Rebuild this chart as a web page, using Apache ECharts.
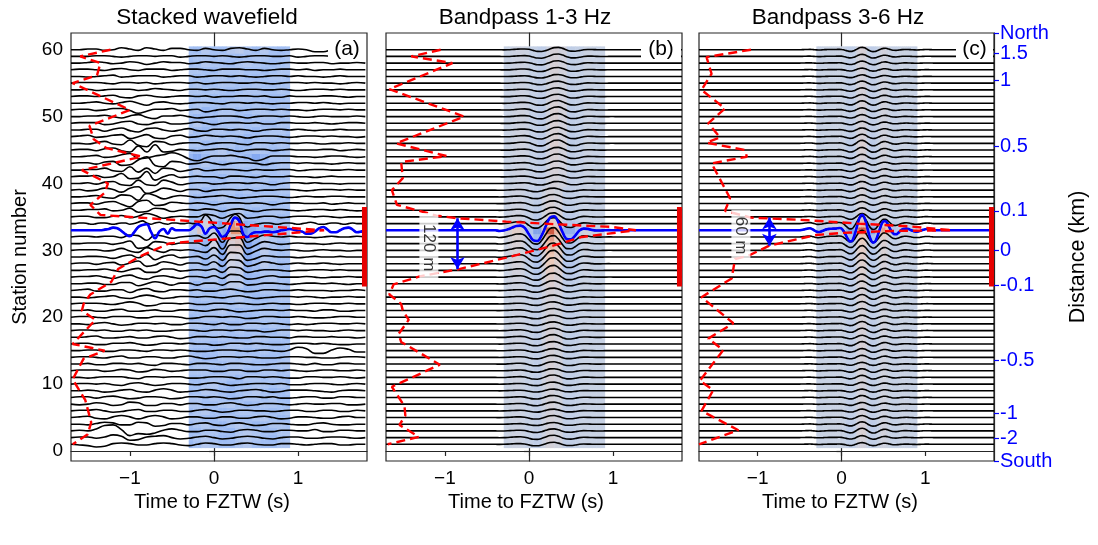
<!DOCTYPE html>
<html><head><meta charset="utf-8">
<script src="https://cdn.jsdelivr.net/npm/echarts@6/dist/echarts.min.js"></script>
<style>html,body{margin:0;padding:0;background:#fff}#c{width:1098px;height:545px}</style>
</head><body><div id="c"></div>
<script>
// ---------------- DATA ----------------
const XMIN = -1.7, XMAX = 1.82, YMIN = -1.5, YMAX = 62.5;
const stationTicks = [0, 10, 20, 30, 40, 50, 60];
const timeTicks = [-1, 0, 1];
const distLabels   = ['North', '1.5', '1', '0.5', '0.1', '0', '-0.1', '-0.5', '-1', '-2', 'South'];
const distStations = [62.5, 59.5, 55.4, 45.6, 35.9, 30.0, 24.8, 13.6, 5.6, 1.9, -1.5];
const panelTitles = ['Stacked wavefield', 'Bandpass 1-3 Hz', 'Bandpass 3-6 Hz'];
const panelTags = ['(a)', '(b)', '(c)'];
const blueStation = 33;
const faultZone = [24.6, 36.5];          // stations covered by red bar
const shadeWindow = [-0.3, 0.9];         // time window of the shaded image

// panel (a): stacked traces, sampled every 0.1 s from -1.7 s, in 0.1 station units
const waveA = [
[0,-1,-2,-4,-3,1,2,1,-1,-1, 1,2,1,-1,-2,0,2,1,-1,-1, 1,2,0,-1,-1,1,1,0,-1,0, 1,1,-1,-1,0,0],
[0,1,1,-1,1,4,2,-4,-3,1, 2,3,0,-2,-1,1,2,0,-2,-1, 1,2,1,-1,-2,0,1,1,-1,-1, 0,1,1,0,-1,0],
[0,1,0,3,8,9,2,-7,-4,-5, -3,1,3,1,-1,-1,1,1,-1,-2, 1,2,1,-1,-1,1,1,0,0,2, -1,-1,1,1,0,0],
[0,0,-1,1,3,2,-1,-1,3,2, -3,-2,1,1,-1,1,2,-1,-2,1, 2,0,-2,-1,1,1,0,-1,-1,1, 2,0,-1,-1,0,0],
[0,1,2,-1,-2,1,3,1,-2,1, 3,1,-2,-1,1,1,-1,-1,1,1, -1,-1,1,2,0,-2,-1,1,1,0, -1,-1,1,2,0,0],
[0,1,1,2,0,-2,-1,1,2,-1, -1,1,1,-1,-1,1,2,0,-2,-1, 1,1,0,0,-1,0,1,1,-1,-1, 1,1,-1,-1,1,0],
[0,-1,0,2,1,-2,-1,3,2,-2, -2,1,1,-1,1,1,-1,-1,1,2, 0,-2,-1,1,1,0,-1,0,1,0, 0,1,1,-1,-1,0],
[0,1,1,-1,1,2,0,-2,-1,1, 1,0,-2,-1,1,1,0,1,0,-2, -1,1,1,0,1,-1,-1,0,1,1, -1,-1,1,1,0,0],
[0,0,1,0,-2,-1,1,2,-1,-2, 1,3,1,-2,-1,0,2,1,-1,-2, 0,1,2,0,-2,-1,1,1,1,0, -1,-2,0,1,1,0],
[0,1,1,0,1,-1,-2,1,2,0, -2,-1,1,1,0,-1,1,2,0,-2, -1,0,1,1,0,1,-1,-1,0,1, 1,0,-1,0,1,0],
[0,0,-1,0,1,1,1,-1,-2,1, 1,0,1,1,-1,-1,0,1,1,0, -2,1,1,0,1,0,-1,-1,1,1, 0,0,1,0,-1,0],
[0,1,1,1,-1,0,2,1,-2,-1, 2,1,-1,0,1,1,1,-1,-1,1, 1,-1,-1,1,1,0,1,0,-1,0, 1,1,0,0,1,0],
[0,0,1,-1,-1,1,1,0,1,-1, -2,1,1,0,-1,1,1,0,-1,1, 1,0,-1,-1,0,1,1,0,-1,1, -1,-1,1,1,0,0],
[0,1,1,0,-1,1,2,-1,-1,1, 1,-1,-1,1,2,0,-2,-1,1,1, 0,1,0,-1,-1,0,1,1,0,0, -1,-1,0,1,1,0],
[0,0,1,1,-1,-1,1,1,0,-1, 1,1,0,1,0,-1,-1,0,1,1, 0,-1,0,1,0,-1,1,5,3,-4, -4,1,4,2,-2,-2],
[0,1,1,-1,-1,1,1,2,0,-2, -1,1,1,0,1,0,0,-2,-1,1, 1,0,1,0,-1,-1,0,1,1,0, 1,0,-1,-1,0,0],
[0,0,1,2,-1,-1,0,1,-1,-1, 1,2,0,-2,-1,1,1,0,1,0, -1,-1,1,1,0,0,-1,1,1,0, 0,1,0,0,-1,0],
[0,1,1,0,1,-1,-1,1,0,1, -1,-1,0,1,1,0,-1,1,1,0, 1,0,0,-2,-1,1,1,0,1,0, 0,-1,0,1,0,0],
[0,0,-1,1,2,0,-2,-1,1,1, 0,1,-1,-1,1,1,0,-1,1,-1, -1,1,1,0,1,0,-1,0,-1,0, 1,1,0,0,1,0],
[0,1,1,0,-1,1,1,1,-1,-1, 1,1,1,0,-2,-1,1,1,0,1, 0,-2,-1,1,1,0,0,1,0,-1, -1,0,1,1,0,0],
[0,0,1,-1,-1,1,2,-1,-1,0, 1,-1,-1,1,1,0,-1,1,2,0, -2,-1,0,1,1,0,1,0,0,-1, 1,1,-1,-1,0,0],
[0,1,1,1,0,-1,1,3,1,-3, -2,1,1,0,1,-1,-1,1,1,0, 1,0,-1,0,1,0,0,-1,0,1, 1,0,0,1,0,0],
[0,0,-1,0,1,2,-1,-2,1,3, 1,-2,-1,1,1,0,1,0,-1,1, 2,0,-2,-1,0,1,1,0,1,0, -1,0,0,1,0,0],
[0,1,2,-1,-1,1,1,-3,1,3, -1,-2,1,1,0,1,-1,-1,1,2, 0,-2,-1,1,1,0,0,1,0,0, 0,-1,0,0,1,0],
[0,0,1,1,-1,-1,2,2,-3,0, 3,1,-2,1,1,-2,1,1,-2,3, 3,-2,-1,1,1,0,-1,0,1,1, 0,1,0,-1,0,0],
[0,1,1,2,0,-2,1,3,-1,-3, 1,2,0,-2,1,1,-1,2,-2,4, 3,-3,-2,1,2,0,0,0,1,0, -1,0,0,1,0,0],
[0,0,1,1,2,0,-2,1,3,-3, -3,2,2,-1,0,1,0,2,-3,5, 4,-3,-1,1,1,0,-1,0,0,1, 1,0,1,0,0,0],
[0,1,1,-1,1,2,-2,1,4,-4, -2,3,1,-2,1,1,-2,3,-4,6, 5,-4,-1,3,1,-1,0,1,0,0, 1,0,-1,0,0,0],
[0,0,1,1,0,-2,1,3,-1,4, -4,1,3,-1,0,1,-3,3,-5,7, 6,-5,-2,2,1,0,0,-1,0,1, 0,0,1,0,0,0],
[0,1,1,1,-1,0,3,-1,-3,4, 0,-3,1,0,1,-1,-3,4,-6,8, 8,-6,-1,3,1,0,1,0,-1,0, 1,0,0,-1,0,0],
[0,0,1,1,1,-1,1,4,-7,-5, 3,2,-1,1,1,1,-3,6,-8,8, 9,-7,-2,3,1,-1,0,1,0,0, -1,0,1,0,0,0],
[0,1,1,0,1,1,-1,3,2,-5, 3,1,-2,0,1,2,-2,6,-8,9, 9,-8,-2,3,1,0,1,0,0,-1, 0,1,0,0,1,0],
null,
null,
[0,1,1,-1,-1,1,2,-1,1,5, 2,-2,0,1,0,0,4,2,-2,3, 5,-2,-1,1,1,-1,0,1,1,0, 1,0,-1,0,0,0],
[0,0,1,1,2,-1,0,3,-3,-2, 3,2,-2,0,1,0,2,1,-2,1, 2,0,-2,0,1,1,0,-1,0,1, 1,0,1,0,-1,0],
[0,1,1,-1,2,3,-1,-5,3,5, -3,-2,2,1,0,1,0,-2,0,1, 1,0,1,0,-2,0,1,1,0,0, 1,-1,0,1,0,0],
[0,0,1,2,-1,-2,3,2,-5,5, 2,-3,0,2,1,-1,0,1,2,0, -2,-1,0,1,1,0,-1,0,1,0, 0,1,1,0,0,0],
[0,1,-1,0,3,1,-3,3,5,-5, -2,3,1,-2,1,1,-2,0,1,1, 0,1,-1,0,0,1,1,0,-1,0, 1,1,0,1,0,0],
[0,0,1,-1,2,3,-2,-3,5,-2, -3,5,2,-2,0,1,1,-1,0,1, 1,0,1,0,-2,0,1,1,0,1, 0,0,-1,0,0,0],
[0,1,1,2,-1,0,5,-3,-2,8, -5,0,3,-1,0,1,0,0,-2,1, 1,0,-1,1,0,0,1,0,0,-1, 0,1,0,0,0,0],
[0,0,1,1,3,-1,-2,5,-3,3, -5,3,2,-2,0,2,-1,0,1,1, 0,-1,1,0,0,1,1,-1,0,1, 1,0,0,1,0,0],
[0,1,1,-1,2,3,-3,-2,5,10, -3,-5,3,2,-1,0,2,0,-2,0, 1,1,0,-2,0,1,1,0,1,0, 0,-1,0,1,0,0],
[0,0,1,2,-1,0,3,5,-3,-2, 1,3,6,3,-3,-6,-2,1,1,2, 0,-2,-6,-3,1,1,1,0,0,-1, 0,1,1,0,-1,0],
[0,1,1,-1,2,3,-1,-3,6,-3, 8,-3,-2,1,0,-1,0,1,2,0, -2,0,1,1,-1,0,1,0,0,0, 1,1,-1,0,1,0],
[0,0,-1,1,3,-1,-2,5,-3,-5, 3,2,-2,0,1,1,-2,0,1,1, -1,-2,1,1,0,1,0,0,1,0, -1,0,0,1,0,0],
[0,1,2,-1,0,2,3,-3,0,3, -2,-3,1,2,-1,0,2,1,0,1, 0,-2,0,1,1,0,-1,0,1,1, 0,1,0,0,-1,0],
[0,0,1,1,-2,1,3,-1,-3,2, 3,0,-2,0,2,-1,-2,1,1,0, 1,0,-2,0,1,1,0,1,0,-1, 0,0,1,0,0,0],
[0,1,1,1,-2,-1,2,3,-1,-2, 1,2,-1,-1,0,2,0,-2,0,1, 1,0,1,-1,-1,1,1,0,0,1, 0,-1,0,1,1,0],
[0,0,1,1,2,0,-2,1,3,-1, -3,1,1,2,0,-2,-1,0,1,1, 0,-2,0,1,1,0,1,0,-1,0, 1,0,0,0,1,0],
[0,1,1,-1,0,2,2,-1,-5,-2, 1,1,2,-1,0,1,-3,-1,1,1, -1,0,1,1,0,1,0,0,-1,0, 1,1,0,1,0,0],
[0,0,1,2,0,-1,1,3,0,-3, 1,2,0,-1,0,1,1,0,-1,1, 1,0,1,0,-1,0,0,1,1,0, 1,0,-1,0,0,0],
[0,1,1,0,1,2,-1,-2,1,2, 0,-1,0,1,1,0,1,-1,0,0, 1,1,0,1,-1,-1,1,0,0,0, 1,1,0,-1,0,0],
[0,0,1,-1,0,1,1,1,-1,0, 2,1,0,-1,1,1,0,1,0,-1, 0,1,1,0,0,1,0,-1,0,1, 1,0,1,0,0,0],
[0,1,1,1,0,-1,1,1,0,1, -1,0,1,1,0,1,-1,0,1,1, 0,0,1,0,-1,0,1,1,0,1, 0,0,-1,0,1,0],
[0,0,-1,0,1,2,-1,0,1,1, 1,-1,0,1,1,-1,0,1,1,0, 1,0,-1,0,1,1,0,1,0,0, -1,0,1,0,0,0],
[0,1,1,0,-1,1,2,0,-1,1, 1,1,-1,0,1,1,0,-1,1,1, 1,0,0,-1,0,1,1,0,1,-1, 0,0,1,0,0,0],
[0,0,1,2,1,-1,0,2,1,-2, 0,2,1,1,-1,0,2,1,0,-1, 1,2,1,0,-1,0,1,0,0,1, 1,-1,0,0,1,0],
[0,0,0,1,1,0,-1,0,1,1, 0,1,1,-1,0,1,1,0,1,0, -1,0,1,1,0,0,1,-1,0,1, 1,0,0,1,0,0],
[0,0,1,1,-1,0,3,1,-1,3, 1,-1,2,2,0,-1,2,0,-1,2, 3,1,-1,2,0,-1,0,1,0,-3, -3,0,2,0,0,0]
];
// stations 33 (blue) and 34 of panel (a), sampled every 0.05 s from -1.7 s, 0.1 station units
const waveA33 = [0,0,0,0,0,0,0,0,1,2, 4,3,-1,-6,-9,-3,5,8,9,-2, -12,-2,2,-5,3,0,0,0,0,4, 9,6,-5,3,5,-2,-10,-6,8,19,
  14,-6,-10,-5,-3,-3,-2,-2,-3,-2, 0,1,2,1,-1,-2,-5,-5,-2,3, 5,1,-3,-3,0,3,4,1,-3,-2, 0];
const waveA34 = [0,0,1,1,0,-1,0,1,1,0, -1,0,1,1,-1,0,2,4,1,-1, 1,2,0,-1,1,1,0,0,1,0, 0,5,13,8,-3,-7,-6,0,9,14,
  10,-2,-5,-3,-1,0,1,1,0,-1, 0,1,1,0,-1,0,1,2,1,-1, -1,0,1,1,0,-1,0,1,0,0, 0];

// panel (b): wavelet (1-3 Hz) every 0.05 s from -0.45 s, per-station amplitude (stations) and shift (samples)
const waveletB = [0,0,-0.05,-0.02,0.07,0.19,0.31,0.33,0.17,-0.29, -0.71,-0.76,-0.38,0.29,0.90,1.00,0.57,-0.14,-0.62,-0.64,
  -0.38,-0.02,0.12,0.10,0.02,-0.02,-0.02,0,0.01,0];
const ampB = [0.3,0.35,0.3,0.25,0.3,0.25,0.3,0.3,0.25,0.3, 0.35,0.3,0.35,0.3,0.3,0.35,0.4,0.35,0.3,0.3,
  0.3,0.3,0.3,0.35,0.45,0.6,0.75,0.9,1.0,1.1, 1.2,1.4,2.1,0.9,0.6,0.45,0.4,0.35,0.3,0.3,
  0.3,0.35,0.35,0.4,0.4,0.5,0.45,0.4,0.4,0.45, 0.45,0.4,0.35,0.3,0.3,0.3,0.35,0.35,0.35,0.35];
const shiftB = [0,0,0,0,0,0,0,0,0,0, 0,0,0,0,0,0,0,0,0,0, 0,0,0,0,0,0,0,0,0,0,
  0,0,0,0,0,0,0,0,0,1, 1,1,1,1,1,1,1,1,1,1, 1,1,1,1,1,1,1,1,1,1];

// panel (c): wavelet (3-6 Hz) every 0.025 s from -0.5 s
const waveletC = [0,0.02,0.05,0.09,0.12,0.13,0.08,0,-0.08,-0.11, -0.09,-0.04,0.02,0.06,0.09,0.10,0.11,0.11,0.13,0.15,
  0.12,-0.05,-0.30,-0.55,-0.72,-0.70,-0.40,0.05,0.55,0.92, 1.00,0.80,0.35,-0.20,-0.62,-0.80,-0.75,-0.45,-0.05,0.35,
  0.58,0.60,0.42,0.15,-0.10,-0.24,-0.26,-0.18,-0.05,0.05, 0.10,0.11,0.08,0.02,-0.04,-0.08,-0.09,-0.07,-0.02,0.03,
  0.07,0.08,0.06,0.03,0];
const ampC = [0.25,0.3,0.4,0.35,0.3,0.25,0.25,0.3,0.25,0.25, 0.3,0.3,0.25,0.3,0.3,0.35,0.3,0.35,0.35,0.3,
  0.3,0.35,0.4,0.35,0.4,0.45,0.5,0.55,0.6,0.7, 0.8,1.0,2.3,1.1,0.5,0.35,0.3,0.3,0.3,0.3,
  0.3,0.3,0.3,0.35,0.4,0.45,0.35,0.3,0.3,0.3, 0.3,0.35,0.3,0.3,0.3,0.25,0.25,0.3,0.3,0.35];
const shiftC = new Array(60).fill(0);

// red dashed profiles: station / time pairs
const redA_s = [60,59,58,56.2,55,51,48.6,46.6,45.3,44.4,44,42,40,38.6,36.8,35.3,33,31.05,29.1,27.2,25.3,23.4,22,21,19.6,16,15,13.8,10.7,7.6,4.3,2.5,1];
const redA_t = [-1.23,-1.59,-1.35,-1.39,-1.68,-1.0,-1.48,-1.43,-1.28,-0.98,-0.86,-1.57,-1.26,-1.30,-1.47,-1.35,1.31,-0.53,-0.88,-1.14,-1.22,-1.47,-1.55,-1.57,-1.41,-1.68,-1.30,-1.55,-1.68,-1.53,-1.46,-1.50,-1.68];
const redB_s = [60,59,58,54.1,50,46,44.1,43.2,40.8,39,36.8,35.2,34.8,34.3,33.9,33.5,33,32,30.6,28.9,27.2,26.1,24.9,23.4,22,21,19.6,17.5,16.3,12.9,9.6,6.7,5.3,3.9,2.1,1];
const redB_t = [-1.05,-1.40,-0.91,-1.66,-0.77,-1.58,-0.98,-1.52,-1.50,-1.63,-1.57,-1.10,-0.85,-0.27,0.32,0.99,1.27,0.63,0.26,-0.27,-0.83,-1.30,-1.61,-1.66,-1.52,-1.50,-1.43,-1.55,-1.52,-1.06,-1.63,-1.48,-1.47,-1.54,-1.31,-1.68];
const redC_s = [60,58.9,56.4,54,51.2,49,46.9,46.1,45,44,43,39.7,37.8,35.9,34.9,34.5,34,33.6,33,32.9,32.6,32.3,31.6,30.7,29.2,28.7,25.8,23,19.1,16.8,15.1,10.5,9.1,6,3.1,1];
const redC_t = [-1.08,-1.61,-1.55,-1.67,-1.39,-1.59,-1.45,-1.61,-1.15,-1.13,-1.55,-1.41,-1.33,-1.39,-1.08,-0.4,0.2,0.8,1.32,0.6,0.0,-0.3,-0.55,-0.86,-1.11,-1.27,-1.31,-1.67,-1.29,-1.59,-1.41,-1.69,-1.53,-1.67,-1.23,-1.70];

// width annotations (b) and (c)
const arrowB = {t: -0.85, s: [34.8, 27.2], text: '120 m', at: [-1.19, 30.4]};
const arrowC = {t: -0.86, s: [34.9, 30.7], text: '60 m', at: [-1.20, 32.2]};

// ---------------- BUILD ----------------
const FONT = '"Liberation Sans", Arial, sans-serif';
const grids = [
  {left: 71, top: 33, width: 296, height: 428},
  {left: 386, top: 33, width: 296, height: 428},
  {left: 699, top: 33, width: 295, height: 428}
];
const palettes = [
  {zero:[166,194,244], p1:[214,214,226], p2:[228,150,118], n1:[128,165,240], n2:[95,135,232], sc:0.7},
  {zero:[200,210,228], p1:[238,202,184], p2:[206,90,66], n1:[165,190,238], n2:[110,148,232], sc:1.0},
  {zero:[200,210,228], p1:[238,202,184], p2:[206,90,66], n1:[165,190,238], n2:[110,148,232], sc:1.0}
];
function mix(a, b, f) { f = Math.max(0, Math.min(1, f)); return a.map((x, i) => Math.round(x + (b[i] - x) * f)); }
function colorFor(p, v) {
  const pal = palettes[p], x = v / pal.sc;
  let c;
  if (x >= 0) c = x < 1 ? mix(pal.zero, pal.p1, x) : mix(pal.p1, pal.p2, x - 1);
  else c = x > -1 ? mix(pal.zero, pal.n1, -x) : mix(pal.n1, pal.n2, -x - 1);
  return 'rgb(' + c.join(',') + ')';
}

function rowOf(p, s) {
  if (p === 0) {
    if (s === 33) return {t0: XMIN, dt: 0.05, v: waveA33.map(x => x / 10)};
    if (s === 34) return {t0: XMIN, dt: 0.05, v: waveA34.map(x => x / 10)};
    return {t0: XMIN, dt: 0.1, v: waveA[s - 1].map(x => x / 10)};
  }
  if (p === 1) return {t0: -0.45 + shiftB[s - 1] * 0.05, dt: 0.05, v: waveletB.map(x => x * ampB[s - 1]), pad: true};
  return {t0: -0.5 + shiftC[s - 1] * 0.025, dt: 0.025, v: waveletC.map(x => x * ampC[s - 1]), pad: true};
}
function traceData(p, s) {
  const r = rowOf(p, s);
  const pts = r.v.map((x, k) => [+(r.t0 + k * r.dt).toFixed(4), s + x]);
  if (r.pad) { pts.unshift([XMIN, s]); pts.push([XMAX, s]); }
  return pts;
}
function sampleAt(r, t) {
  const k = Math.round((t - r.t0) / r.dt);
  return (k >= 0 && k < r.v.length) ? r.v[k] : 0;
}

const series = [];
for (let p = 0; p < 3; p++) {
  const cdt = p === 2 ? 0.025 : 0.05;
  const cells = [];
  for (let s = 1; s <= 60; s++) {
    const r = rowOf(p, s);
    for (let t = shadeWindow[0]; t < shadeWindow[1] - 1e-6; t += cdt) {
      cells.push([t, Math.min(t + cdt, shadeWindow[1]), s, sampleAt(r, t + cdt / 2)]);
    }
  }
  series.push({
    type: 'custom', xAxisIndex: p, yAxisIndex: p, silent: true, z: 1, clip: true,
    data: cells, encode: {x: [0, 1], y: 2},
    renderItem: (params, api) => {
      const a = api.coord([api.value(0), api.value(2) + 0.5]);
      const b = api.coord([api.value(1), api.value(2) - 0.5]);
      return {type: 'rect', shape: {x: a[0], y: a[1], width: b[0] - a[0] + 0.5, height: b[1] - a[1] + 0.5},
        style: {fill: colorFor(p, api.value(3))}};
    }
  });
  for (let s = 1; s <= 60; s++) {
    series.push({type: 'line', xAxisIndex: p, yAxisIndex: p, data: traceData(p, s), symbol: 'none',
      smooth: p === 0 ? 0.45 : 0.35, silent: true, z: 2, lineStyle: {color: '#000', width: 1.6}});
  }
  series.push({type: 'line', xAxisIndex: p, yAxisIndex: p, data: traceData(p, blueStation), symbol: 'none',
    smooth: p === 0 ? 0.45 : 0.35, silent: true, z: 3, lineStyle: {color: '#0000ff', width: 2.6}});
  const rs = [redA_s, redB_s, redC_s][p], rt = [redA_t, redB_t, redC_t][p];
  series.push({type: 'line', xAxisIndex: p, yAxisIndex: p, data: rs.map((s, i) => [rt[i], s]), symbol: 'none',
    silent: true, z: 4, lineStyle: {color: '#ff0000', width: 2.4, type: [9, 5]}});
  series.push({type: 'line', xAxisIndex: p, yAxisIndex: p, data: [[XMAX - 0.03, faultZone[0]], [XMAX - 0.03, faultZone[1]]],
    symbol: 'none', silent: true, z: 4, lineStyle: {color: '#e60000', width: 5}});
}
[[1, arrowB], [2, arrowC]].forEach(([p, a]) => {
  series.push({type: 'line', xAxisIndex: p, yAxisIndex: p, data: [], silent: true, z: 5,
    markLine: {silent: true, symbol: ['arrow', 'arrow'], symbolSize: [11, 12], label: {show: false},
      lineStyle: {color: '#0000ff', width: 2.6, type: 'solid'},
      data: [[{coord: [a.t, a.s[0]]}, {coord: [a.t, a.s[1]]}]]}});
  series.push({type: 'scatter', xAxisIndex: p, yAxisIndex: p, data: [a.at], silent: true, z: 6,
    symbol: 'circle', symbolSize: 1, itemStyle: {color: 'rgba(0,0,0,0)'},
    label: {show: true, position: 'inside', rotate: -90, formatter: a.text, color: '#000', fontSize: 17, fontFamily: FONT,
      backgroundColor: '#fff', padding: p === 1 ? [1, 11] : [1, 7]}});
});

const minus = v => (v < 0 ? '\u2212' : '') + Math.abs(v);
const xAxes = grids.map((g, i) => ({
  type: 'value', gridIndex: i, min: XMIN, max: XMAX, splitLine: {show: false},
  axisLine: {show: true, lineStyle: {color: '#262626', width: 1.2}},
  axisTick: {show: true, length: 5, customValues: timeTicks, lineStyle: {color: '#262626', width: 1.2}},
  axisLabel: {customValues: timeTicks, formatter: minus, fontSize: 19, color: '#000', fontFamily: FONT, margin: 8}
}));
const yAxes = grids.map((g, i) => ({
  type: 'value', gridIndex: i, min: YMIN, max: YMAX, splitLine: {show: false},
  axisLine: {show: true, lineStyle: {color: '#262626', width: 1.2}},
  axisTick: {show: true, length: 5, customValues: stationTicks, lineStyle: {color: '#262626', width: 1.2}},
  axisLabel: {show: i === 0, customValues: stationTicks, fontSize: 19, color: '#000', fontFamily: FONT, margin: 8}
}));
yAxes.push({
  type: 'value', gridIndex: 2, position: 'right', min: YMIN, max: YMAX, splitLine: {show: false},
  axisLine: {show: true, lineStyle: {color: '#262626', width: 1.2}},
  axisTick: {show: true, length: 5, customValues: distStations, lineStyle: {color: '#0000ff', width: 1.2}},
  axisLabel: {customValues: distStations, showMinLabel: true, showMaxLabel: true,
    formatter: v => { const i = distStations.findIndex(d => Math.abs(d - v) < 1e-6); return i >= 0 ? distLabels[i] : ''; },
    fontSize: 20, color: '#0000ff', fontFamily: FONT, margin: 6}
});

const titleX = [207, 525, 838];
const xlabX = [212, 526, 840];
const tagBox = [[328, 35, 38, 26], [641, 35, 40, 26], [956, 35, 37, 26]];
const graphics = [];
for (let i = 0; i < 3; i++) {
  graphics.push({type: 'text', x: titleX[i], y: 18, z: 100, style: {text: panelTitles[i], fill: '#000', font: '22.5px ' + FONT, align: 'center', verticalAlign: 'middle'}});
  graphics.push({type: 'text', x: xlabX[i], y: 502, z: 100, style: {text: 'Time to FZTW (s)', fill: '#000', font: '20px ' + FONT, align: 'center', verticalAlign: 'middle'}});
  const b = tagBox[i];
  graphics.push({type: 'rect', z: 100, shape: {x: b[0], y: b[1], width: b[2], height: b[3]}, style: {fill: '#fff'}});
  graphics.push({type: 'text', x: b[0] + b[2] / 2, y: b[1] + b[3] / 2 + 1, z: 101, style: {text: panelTags[i], fill: '#000', font: '21px ' + FONT, align: 'center', verticalAlign: 'middle'}});
}
graphics.push({type: 'text', x: 20, y: 257, rotation: Math.PI / 2, z: 100, style: {text: 'Station number', fill: '#000', font: '20px ' + FONT, align: 'center', verticalAlign: 'middle'}});
graphics.push({type: 'text', x: 1078, y: 257, rotation: Math.PI / 2, z: 100, style: {text: 'Distance (km)', fill: '#000', font: '21.5px ' + FONT, align: 'center', verticalAlign: 'middle'}});

const chart = echarts.init(document.getElementById('c'), null, {renderer: 'canvas'});
chart.setOption({
  animation: false,
  backgroundColor: '#fff',
  grid: grids.map(g => Object.assign({show: true, borderColor: '#262626', borderWidth: 1.2, backgroundColor: 'transparent'}, g)),
  xAxis: xAxes,
  yAxis: yAxes,
  series: series,
  graphic: graphics
});
</script></body></html>
